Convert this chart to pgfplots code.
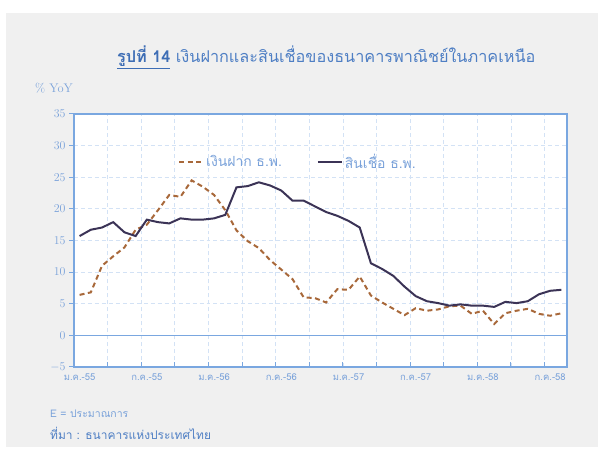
\documentclass[border=0pt]{standalone}
\usepackage{fontspec}
\usepackage{pgfplots}
\pgfplotsset{compat=1.18}
\newfontfamily\thai[Script=Thai]{Loma}
\definecolor{bgray}{HTML}{F0F0F0}
\definecolor{axblue}{HTML}{7AA7E0}
\definecolor{gridblue}{HTML}{D3E2F5}
\definecolor{lblue}{HTML}{7AA2DA}
\definecolor{tblue}{HTML}{3D6DB5}
\definecolor{tblue2}{HTML}{4F7FC4}
\definecolor{dep}{HTML}{A8683A}
\definecolor{cred}{HTML}{3B3356}

\pgfplotstableread{
i dep cred
0 6.4 15.7
1 6.8 16.7
2 11.0 17.05
3 12.5 17.9
4 13.9 16.3
5 16.7 15.7
6 17.5 18.3
7 19.8 17.9
8 22.2 17.7
9 21.9 18.5
10 24.5 18.3
11 23.5 18.3
12 22.2 18.5
13 19.8 19.05
14 16.6 23.4
15 14.9 23.6
16 13.8 24.2
17 11.9 23.7
18 10.4 22.9
19 8.9 21.3
20 6.0 21.3
21 5.9 20.4
22 5.2 19.5
23 7.3 18.9
24 7.2 18.1
25 9.3 17.05
26 6.3 11.4
27 5.2 10.5
28 4.2 9.4
29 3.2 7.7
30 4.3 6.2
31 3.9 5.4
32 4.1 5.1
33 4.6 4.7
34 4.7 4.9
35 3.4 4.7
36 3.9 4.7
37 1.8 4.5
38 3.5 5.3
39 3.9 5.1
40 4.2 5.4
41 3.4 6.5
42 3.1 7.05
43 3.5 7.2
}\datatable

\begin{document}
\begin{tikzpicture}[x=1bp,y=1bp]
\fill[white] (0,0) rectangle (598,453);
\fill[bgray] (6,6) rectangle (598,440);
\node[anchor=west, inner sep=0] at (117,396) {\thai\fontsize{16.3}{19}\selectfont\color{tblue}\underline{\textbf{รูปที่ 14}}\ \color{tblue2}เงินฝากและสินเชื่อของธนาคารพาณิชย์ในภาคเหนือ};
\node[anchor=west, inner sep=0] at (35,365) {\fontsize{12.5}{14}\selectfont\color{lblue}\% YoY};
\node[anchor=west, inner sep=0] at (50,39) {\thai\fontsize{10.5}{12}\selectfont\color{lblue}E = ประมาณการ};
\node[anchor=west, inner sep=0] at (50,20) {\thai\fontsize{12}{14}\selectfont\color{tblue2}ที่มา : ธนาคารแห่งประเทศไทย};
\begin{axis}[
  at={(74bp,86bp)}, anchor=south west, scale only axis,
  width=493bp, height=253bp,
  xmin=-0.5, xmax=43.5, ymin=-5, ymax=35,
  ytick={-5,0,...,35},
  xtick={-0.5,2.5,...,41.5}, xticklabels={},
  extra x ticks={0,6,...,42},
  extra x tick labels={ม.ค.-55,ก.ค.-55,ม.ค.-56,ก.ค.-56,ม.ค.-57,ก.ค.-57,ม.ค.-58,ก.ค.-58},
  extra x tick style={grid=none, major tick length=0pt,
     tick label style={font=\thai\fontsize{9.5}{11}\selectfont, text=lblue, yshift=-3bp}},
  xtick pos=bottom, ytick pos=left,
  tick align=inside,
  major tick length=5bp,
  y tick style={xshift=-5bp},
  grid=major,
  major grid style={gridblue, dash pattern=on 4pt off 3pt, line width=0.8pt},
  axis line style={axblue, line width=1.2pt},
  tick style={axblue, line width=1pt},
  y tick label style={font=\fontsize{12}{13}\selectfont, text=lblue, xshift=-5bp},
  axis background/.style={fill=white},
  legend style={draw=none, fill=none, at={(0.205,0.81)}, anchor=west,
     font=\thai\fontsize{14}{16}\selectfont, text=lblue,
     /tikz/every even column/.append style={column sep=33bp}},
  legend columns=2,
  legend image code/.code={\draw[#1] (0bp,0bp) -- (24bp,0bp);},
]
\draw[axblue, line width=1.2pt] (axis cs:-0.5,0) -- (axis cs:43.5,0);
\addplot[dep, line width=2pt, dash pattern=on 5pt off 3.5pt] table[x=i, y=dep] {\datatable};
\addlegendentry{เงินฝาก ธ.พ.}
\addplot[cred, line width=2pt] table[x=i, y=cred] {\datatable};
\addlegendentry{สินเชื่อ ธ.พ.}
\end{axis}
\pgfresetboundingbox
\path[use as bounding box] (0,0) rectangle (598,453);
\end{tikzpicture}
\end{document}
